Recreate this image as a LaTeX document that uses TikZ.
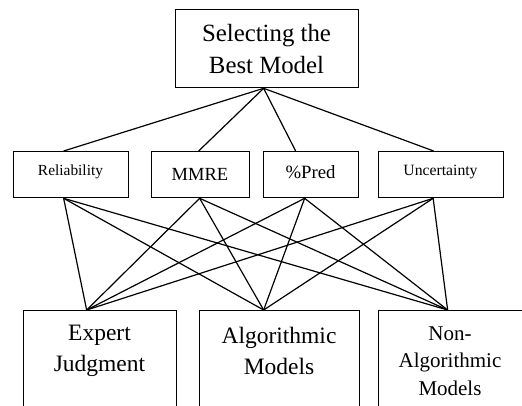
\documentclass[tikz,border=0pt]{standalone}
\usepackage{fontspec}
\setmainfont{Liberation Serif}
\begin{document}
\begin{tikzpicture}[x=1pt,y=-1pt,
  boxstyle/.style={draw,line width=1.3pt,inner sep=0pt,anchor=north west},
  txt/.style={align=center,inner sep=0pt},
  conn/.style={line width=1.2pt}]
\useasboundingbox (0,0) rectangle (522,405);
\clip (0,0) rectangle (522,405);
% top box
\node[boxstyle,minimum width=183pt,minimum height=78pt] (top) at (175,9) {};
\node[txt,font=\fontsize{24.8}{32}\selectfont] (toptxt) at (266.5,49) {Selecting the\\Best Model};
% middle boxes
\node[boxstyle,minimum width=115pt,minimum height=46pt] (rel) at (13,151) {};
\node[txt,font=\fontsize{15.4}{18}\selectfont] (reltxt) at (70.5,172) {Reliability};
\node[boxstyle,minimum width=98pt,minimum height=46pt] (mmre) at (151,151) {};
\node[txt,font=\fontsize{18.5}{22}\selectfont] (mmretxt) at (200,174) {MMRE};
\node[boxstyle,minimum width=95pt,minimum height=46pt] (pred) at (263,151) {};
\node[txt,font=\fontsize{18.75}{22}\selectfont] (predtxt) at (310.5,172) {\%Pred};
\node[boxstyle,minimum width=125pt,minimum height=46pt] (unc) at (378,151) {};
\node[txt,font=\fontsize{15.7}{18}\selectfont] (unctxt) at (440.5,172) {Uncertainty};
% bottom boxes
\node[boxstyle,minimum width=153pt,minimum height=120pt] (ej) at (23,310) {};
\node[txt,font=\fontsize{23.5}{31}\selectfont] (ejtxt) at (99.5,351) {Expert\\Judgment};
\node[boxstyle,minimum width=160pt,minimum height=120pt] (alg) at (199,310) {};
\node[txt,font=\fontsize{23.5}{31}\selectfont] (algtxt) at (279,351) {Algorithmic\\Models};
\node[boxstyle,minimum width=160pt,minimum height=120pt] (non) at (378,310) {};
\node[txt,font=\fontsize{21}{27.5}\selectfont] (nontxt) at (450,361) {Non-\\Algorithmic\\Models};
% attachment points
\coordinate (topB) at ([xshift=-3.5pt]top.south);
\coordinate (relT) at ([xshift=-7.5pt]rel.north);
\coordinate (mmreT) at ([xshift=-2pt]mmre.north);
\coordinate (predT) at ([xshift=-15.5pt]pred.north);
\coordinate (uncT) at ([xshift=-7.5pt]unc.north);
\coordinate (relB) at ([xshift=-7.5pt]rel.south);
\coordinate (mmreB) at ([xshift=-1pt]mmre.south);
\coordinate (predB) at ([xshift=-6.5pt]pred.south);
\coordinate (uncB) at ([xshift=-8pt]unc.south);
\coordinate (ejT) at ([xshift=-13.5pt]ej.north);
\coordinate (algT) at ([xshift=-16pt]alg.north);
\coordinate (nonT) at ([xshift=-11pt]non.north);
% connectors
\foreach \m in {relT,mmreT,predT,uncT} \draw[conn] (topB) -- (\m);
\foreach \m in {relB,mmreB,predB,uncB}
  \foreach \b in {ejT,algT,nonT}
    \draw[conn] (\m) -- (\b);
\end{tikzpicture}
\end{document}
